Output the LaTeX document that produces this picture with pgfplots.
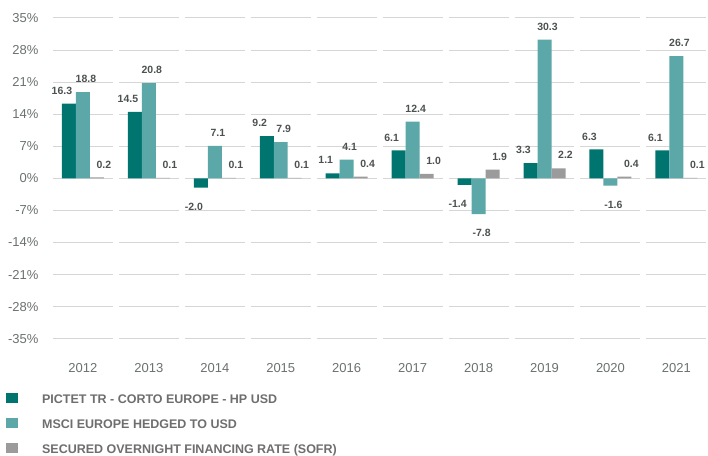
\documentclass[border=0pt]{standalone}
\usepackage{pgfplots}
\pgfplotsset{compat=1.18}
\usepackage{pgfplotstable}
\usepackage{fontspec}
\setmainfont{Liberation Sans}
\definecolor{cDark}{HTML}{00756F}
\definecolor{cLight}{HTML}{5CA8A8}
\definecolor{cGray}{HTML}{9B9B9B}
\definecolor{cGrid}{HTML}{D6D6D6}
\definecolor{cLab}{HTML}{4D5152}
\definecolor{cTick}{HTML}{6B7070}
\definecolor{cLeg}{HTML}{6E6E6E}

\pgfplotstableread{
x a b c
0 16.3 18.8 0.2
1 14.5 20.8 0.1
2 -2.0 7.1 0.1
3 9.2 7.9 0.1
4 1.1 4.1 0.4
5 6.1 12.4 1.0
6 -1.4 -7.8 1.9
7 3.3 30.3 2.2
8 6.3 -1.6 0.4
9 6.1 26.7 0.1
}\data

\pgfplotsset{sq/.style={legend image code/.code={\fill[#1, draw=none] (0pt,-4pt) rectangle (12pt,6pt);}}}

\begin{document}
\begin{tikzpicture}
\begin{axis}[
  name=ax,
  scale only axis, width=658pt, height=321pt,
  xmin=-0.5, xmax=9.47, ymin=-35, ymax=35,
  axis line style={draw=none}, major tick length=0pt,
  clip=false,
  ybar=0pt, bar width=14pt,
  xtick={0,...,9}, xticklabels={2012,2013,2014,2015,2016,2017,2018,2019,2020,2021},
  ytick={-35,-28,...,35},
  yticklabel={\pgfmathprintnumber{\tick}\%},
  /pgf/number format/assume math mode=true,
  xticklabel style={font=\fontsize{13}{15}\selectfont, text=cTick, yshift=-21pt},
  yticklabel style={font=\fontsize{13}{15}\selectfont, text=cTick, xshift=-8pt},
  point meta=explicit symbolic,
  nodes near coords={\pgfplotspointmeta},
  visualization depends on={y \as \rawy},
  nodes near coords style={font=\bfseries\fontsize{10.5}{12}\selectfont, text=cLab, anchor=center, yshift={(\rawy<0)*(-32)+13}},
  legend style={at={(axis description cs:-0.0669,-0.1683)}, anchor=north west, draw=none, fill=none,
    inner sep=0pt, row sep=14.5pt, column sep=24pt,
    nodes={inner sep=0pt, text=cLeg, font=\bfseries\fontsize{12.5}{14}\selectfont, text height=9pt, text depth=0pt}},
  legend cell align=left,
]
\pgfplotsinvokeforeach{0,...,9}{
  \draw[cGrid, line width=1pt] (axis cs:#1-0.4545,-35) -- (axis cs:#1+0.4545,-35)
    (axis cs:#1-0.4545,-28) -- (axis cs:#1+0.4545,-28)
    (axis cs:#1-0.4545,-21) -- (axis cs:#1+0.4545,-21)
    (axis cs:#1-0.4545,-14) -- (axis cs:#1+0.4545,-14)
    (axis cs:#1-0.4545,-7) -- (axis cs:#1+0.4545,-7)
    (axis cs:#1-0.4545,0) -- (axis cs:#1+0.4545,0)
    (axis cs:#1-0.4545,7) -- (axis cs:#1+0.4545,7)
    (axis cs:#1-0.4545,14) -- (axis cs:#1+0.4545,14)
    (axis cs:#1-0.4545,21) -- (axis cs:#1+0.4545,21)
    (axis cs:#1-0.4545,28) -- (axis cs:#1+0.4545,28)
    (axis cs:#1-0.4545,35) -- (axis cs:#1+0.4545,35);
}
\addplot[fill=cDark, draw=none, sq, every node near coord/.append style={xshift=-7pt}] table[x=x,y=a,meta=a]{\data};
\addplot[fill=cLight, draw=none, sq, every node near coord/.append style={xshift=3pt}] table[x=x,y=b,meta=b]{\data};
\addplot[fill=cGray, draw=none, sq, every node near coord/.append style={xshift=7pt}] table[x=x,y=c,meta=c]{\data};
\legend{PICTET TR - CORTO EUROPE - HP USD, MSCI EUROPE HEDGED TO USD, SECURED OVERNIGHT FINANCING RATE (SOFR)}
\end{axis}
\path ([xshift=-50pt,yshift=-117pt]ax.south west) rectangle ++(708pt,456pt);
\end{tikzpicture}
\end{document}
